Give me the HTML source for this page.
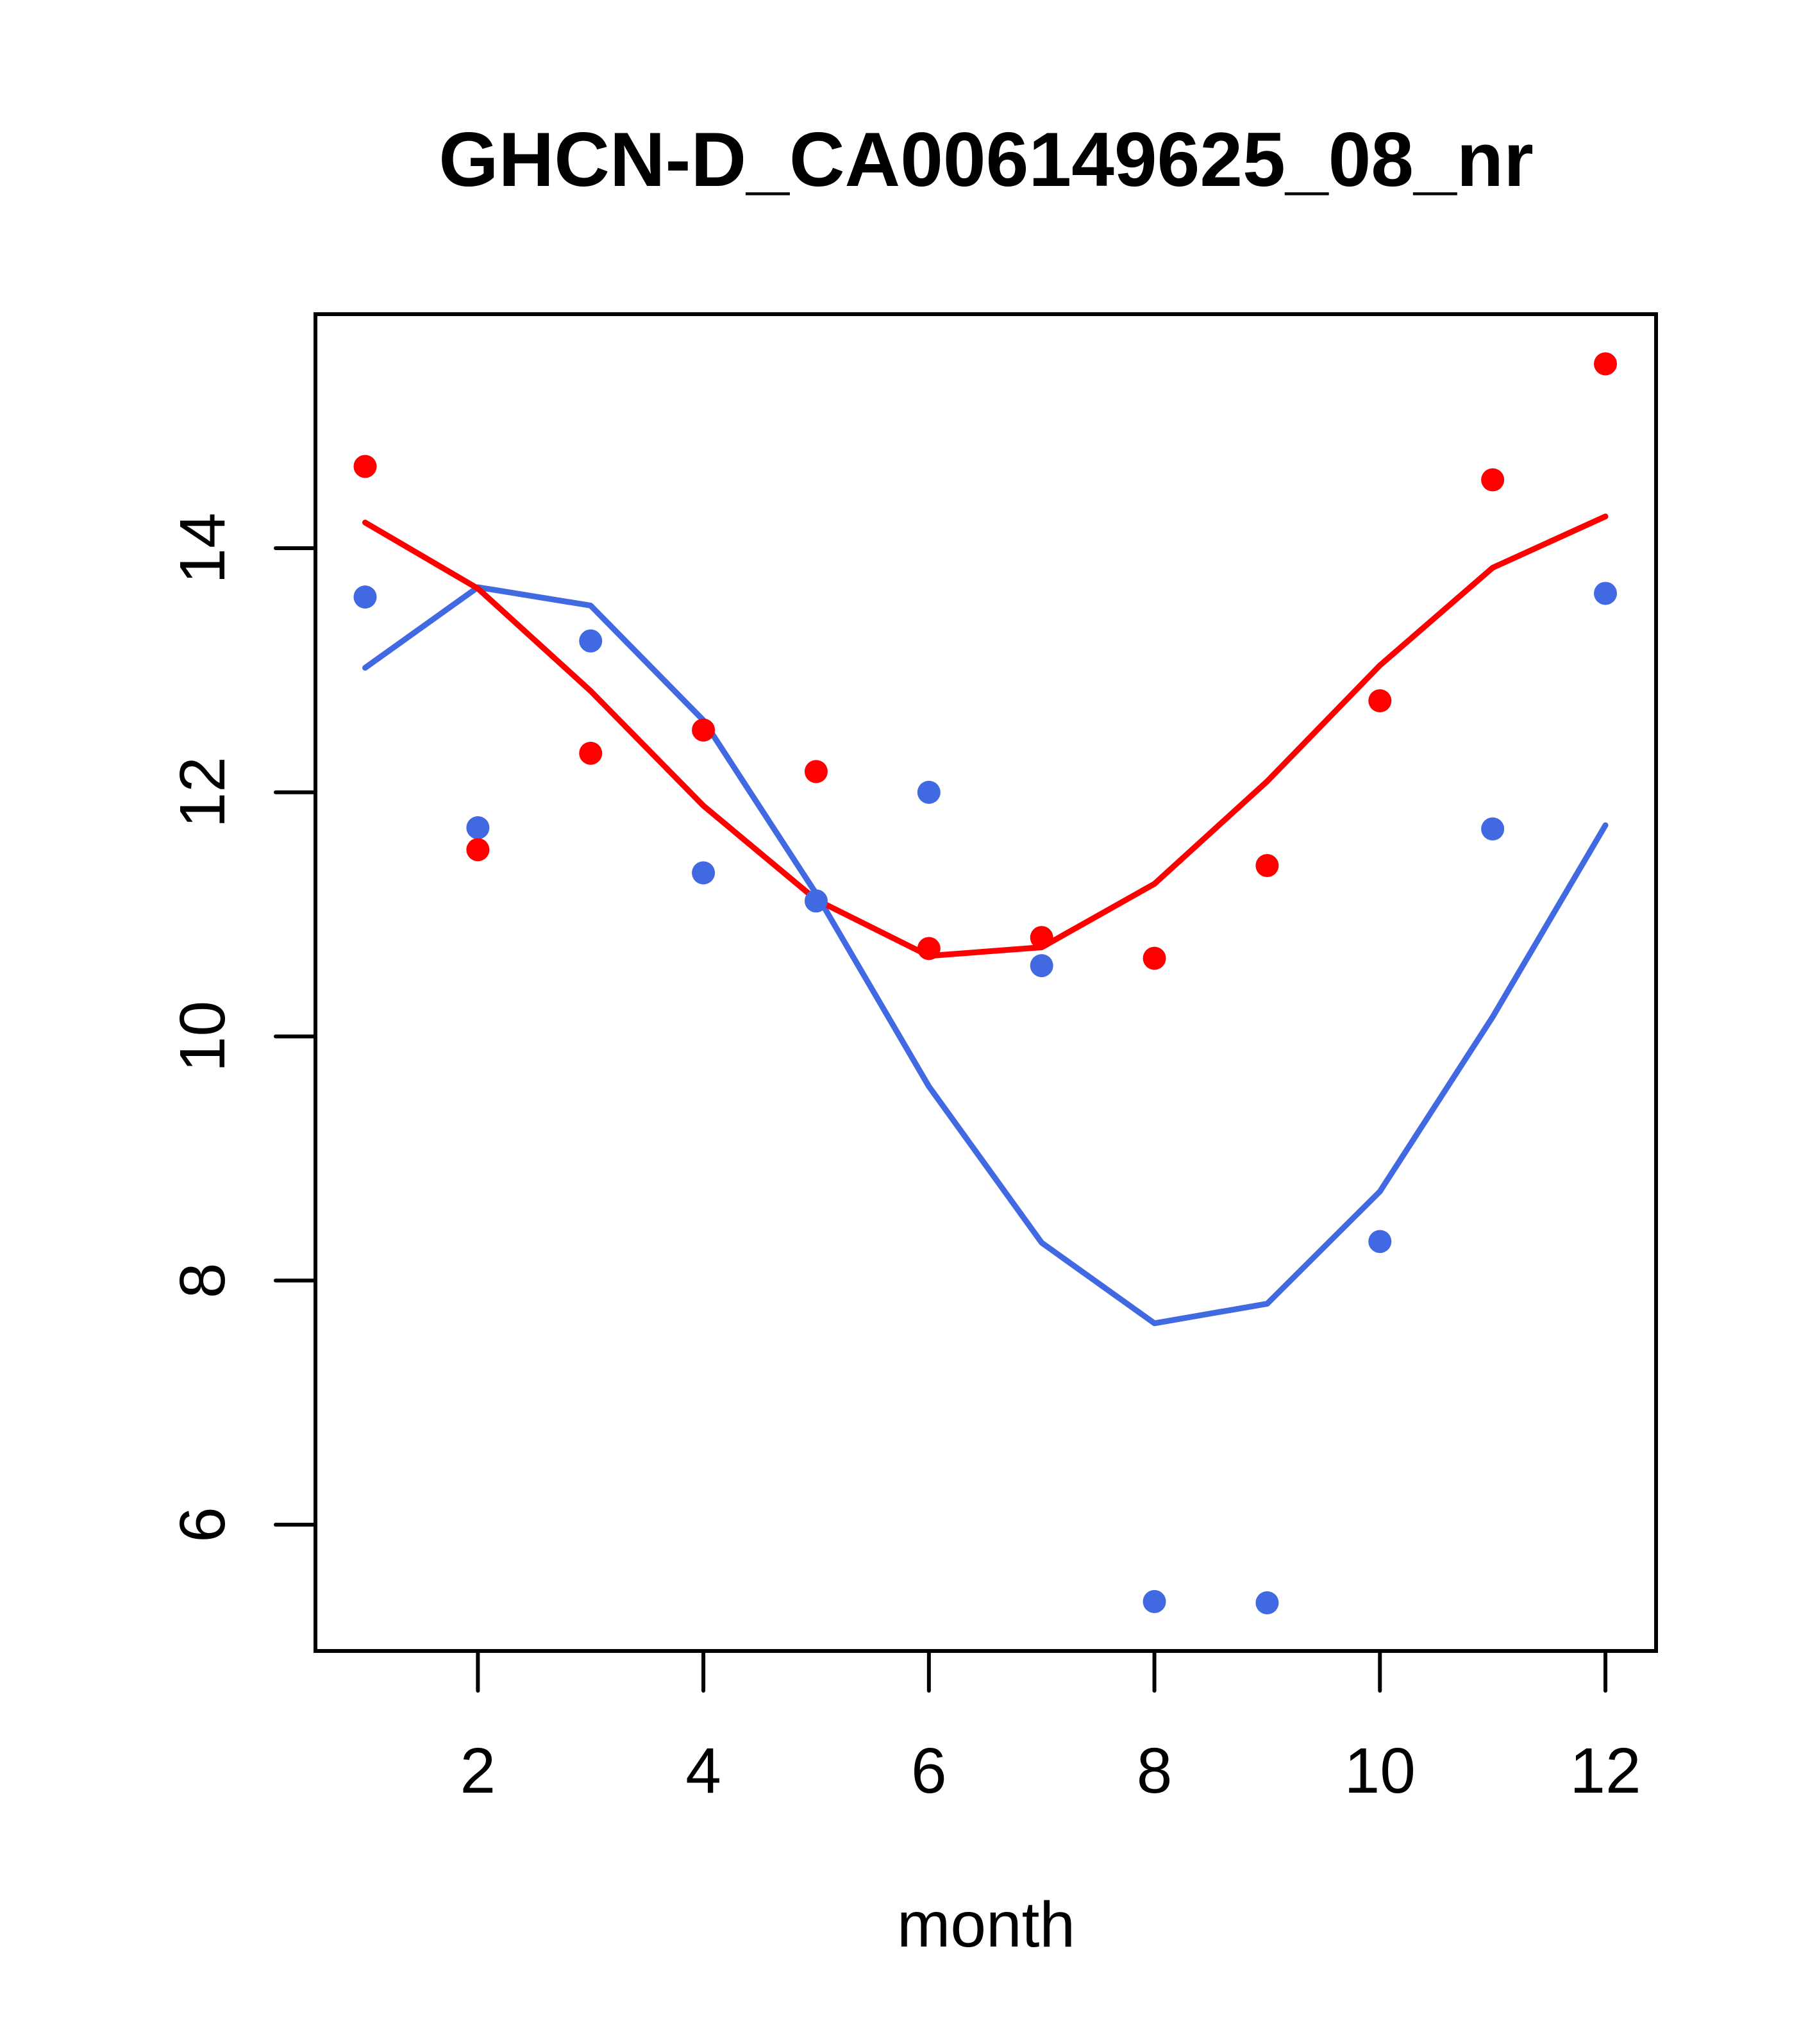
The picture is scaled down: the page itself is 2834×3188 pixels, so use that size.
<!DOCTYPE html>
<html><head><meta charset="utf-8"><style>
html,body{margin:0;padding:0;background:#fff;}
svg{display:block;font-family:"Liberation Sans",sans-serif;}
</style></head><body>
<svg id="chart" width="2834" height="3188" viewBox="0 0 2834 3188" xmlns="http://www.w3.org/2000/svg">
<rect width="2834" height="3188" fill="#fff"/>
<text x="1538" y="290" text-anchor="middle" font-size="120" font-weight="bold">GHCN-D_CA006149625_08_nr</text>
<rect x="492" y="490" width="2091" height="2085" fill="none" stroke="#000" stroke-width="6"/>
<g id="xaxis"></g>
<g id="yaxis"></g>
<g id="series"></g>
<text x="1538" y="3036" text-anchor="middle" font-size="100">month</text>
</svg>
<script>
const months=[1,2,3,4,5,6,7,8,9,10,11,12];
const xTicks=[2,4,6,8,10,12];
const yTicks=[6,8,10,12,14];
const redPoints=[14.67,11.53,12.32,12.51,12.17,10.72,10.81,10.64,11.40,12.75,14.56,15.51];
const bluePoints=[13.60,11.71,13.24,11.34,11.11,12.00,10.58,5.37,5.36,8.32,11.70,13.63];
const redLine=[14.21,13.67,12.83,11.89,11.12,10.66,10.73,11.25,12.09,13.04,13.84,14.26];
const blueLine=[13.02,13.68,13.53,12.59,11.17,9.59,8.31,7.65,7.81,8.73,10.16,11.73];

const NS="http://www.w3.org/2000/svg";
function sx(m){return 569.5+(m-1)*(2504-569.5)/11;}
function sy(v){return 2378-(v-6)*(2378-855)/8;}
function mk(tag,attrs,parent){const e=document.createElementNS(NS,tag);for(const k in attrs)e.setAttribute(k,attrs[k]);parent.appendChild(e);return e;}

const xa=document.getElementById('xaxis');
xTicks.forEach(t=>{
  const l=mk('line',{x1:sx(t),x2:sx(t),y1:2575,y2:2637,stroke:'#000','stroke-width':6,'stroke-linecap':'round'},xa);
  
  
  const tx=mk('text',{x:sx(t),y:2796,'text-anchor':'middle','font-size':100},xa);
  tx.textContent=t;
  
  
});
const ya=document.getElementById('yaxis');
yTicks.forEach(t=>{
  const l=mk('line',{x1:430,x2:492,y1:sy(t),y2:sy(t),stroke:'#000','stroke-width':6,'stroke-linecap':'round'},ya);
  
  
  const tx=mk('text',{x:0,y:0,'text-anchor':'middle','font-size':100,transform:`translate(350,${sy(t)}) rotate(-90)`},ya);
  tx.textContent=t;
  
  
});
const sg=document.getElementById('series');
function line(vals,color,name){
  const p=mk('polyline',{points:vals.map((v,i)=>sx(months[i])+','+sy(v)).join(' '),fill:'none',stroke:color,'stroke-width':9,'stroke-linejoin':'round','stroke-linecap':'round'},sg);
  
  
}
function pts(vals,color,name){
  vals.forEach((v,i)=>{
    const c=mk('circle',{cx:sx(months[i]),cy:sy(v),r:18,fill:color},sg);
    
    
  });
}
line(blueLine,'#4169E1','blue-line');
line(redLine,'#FF0000','red-line');
pts(bluePoints,'#4169E1','blue-point');
pts(redPoints,'#FF0000','red-point');
</script>
</body></html>
